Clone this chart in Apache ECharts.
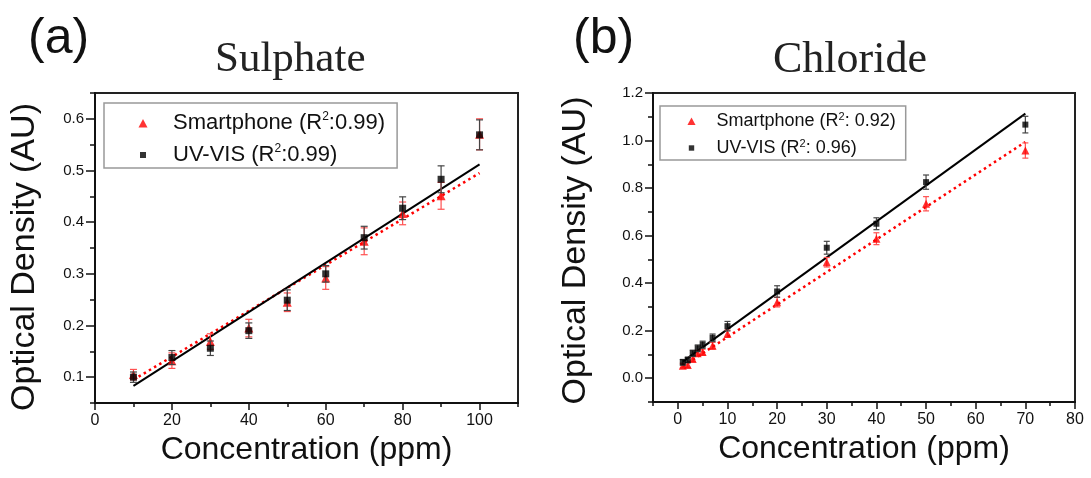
<!DOCTYPE html>
<html>
<head>
<meta charset="utf-8">
<script src="https://cdn.jsdelivr.net/npm/echarts@6/dist/echarts.min.js"></script>
<style>
  html, body { margin: 0; padding: 0; background: #fff; }
  #chart { width: 1091px; height: 478px; }
</style>
</head>
<body>
<div id="chart"></div>
<script>
// ---- Sulphate measurements (ppm vs optical density) ----
const sulphateConc = [10, 20, 30, 40, 50, 60, 70, 80, 90, 100];
const sulphatePhone = [0.105, 0.132, 0.169, 0.195, 0.245, 0.292, 0.363, 0.417, 0.451, 0.570];
const sulphatePhoneErr = [0.010, 0.015, 0.015, 0.017, 0.018, 0.022, 0.026, 0.022, 0.026, 0.030];
const sulphateUv = [0.100, 0.138, 0.156, 0.190, 0.249, 0.300, 0.370, 0.427, 0.483, 0.569];
const sulphateUvErr = [0.010, 0.0135, 0.014, 0.015, 0.020, 0.016, 0.022, 0.022, 0.026, 0.029];
// linear fit end points
const sulphatePhoneFit = [[10, 0.095], [100, 0.495]];
const sulphateUvFit = [[10, 0.083], [100, 0.512]];

// ---- Chloride measurements ----
const chlorideConc = [1, 2, 3, 4, 5, 7, 10, 20, 30, 40, 50, 70];
const chloridePhone = [0.053, 0.056, 0.081, 0.105, 0.110, 0.137, 0.187, 0.320, 0.488, 0.587, 0.734, 0.958];
const chloridePhoneErr = [0.010, 0.010, 0.010, 0.012, 0.012, 0.014, 0.015, 0.020, 0.020, 0.025, 0.030, 0.032];
const chlorideUv = [0.067, 0.077, 0.105, 0.126, 0.141, 0.170, 0.219, 0.365, 0.549, 0.650, 0.825, 1.067];
const chlorideUvErr = [0.012, 0.012, 0.013, 0.014, 0.015, 0.016, 0.020, 0.024, 0.027, 0.025, 0.030, 0.035];
const chloridePhoneFit = [[1, 0.050], [70, 0.994]];
const chlorideUvFit = [[1, 0.070], [70, 1.113]];

// ---- tick positions ----
const sulphateXMajor = [0, 20, 40, 60, 80, 100];
const sulphateXMinor = [10, 30, 50, 70, 90, 110];
const sulphateYMajor = [0.1, 0.2, 0.3, 0.4, 0.5, 0.6];
const sulphateYMinor = [0.05, 0.15, 0.25, 0.35, 0.45, 0.55, 0.65];
const chlorideXMajor = [0, 10, 20, 30, 40, 50, 60, 70, 80];
const chlorideXMinor = [-5, 5, 15, 25, 35, 45, 55, 65, 75];
const chlorideYMajor = [0.0, 0.2, 0.4, 0.6, 0.8, 1.0, 1.2];
const chlorideYMinor = [-0.1, 0.1, 0.3, 0.5, 0.7, 0.9, 1.1];

const SANS = 'Liberation Sans';
const SERIF = 'Liberation Serif';
const INK = '#111';
const RED = '#ff0000';

// legend glyphs: outer moves fix the icon box so the glyph keeps its size
const ICON_TRI = 'path://M0,0M10,10M0.5,9.5L5,1L9.5,9.5Z';
const ICON_SQ = 'path://M0,0M10,10M2,2h6v6h-6z';

function points(conc, vals) { return conc.map((x, i) => [x, vals[i]]); }
function bars(conc, vals, errs) { return conc.map((x, i) => [x, vals[i] - errs[i], vals[i] + errs[i]]); }

function errorRenderer(color, half) {
  return function (params, api) {
    const x = api.value(0);
    const lo = api.coord([x, api.value(1)]);
    const hi = api.coord([x, api.value(2)]);
    const st = { stroke: color, lineWidth: 1.2 };
    return {
      type: 'group',
      children: [
        { type: 'line', shape: { x1: lo[0], y1: lo[1], x2: hi[0], y2: hi[1] }, style: st },
        { type: 'line', shape: { x1: lo[0] - half, y1: lo[1], x2: lo[0] + half, y2: lo[1] }, style: st },
        { type: 'line', shape: { x1: hi[0] - half, y1: hi[1], x2: hi[0] + half, y2: hi[1] }, style: st }
      ]
    };
  };
}

function mainAxis(grid, pos, min, max, major, tickLen, labelSize, margin, fmt, name, nameGap, namePad) {
  return {
    type: 'value', gridIndex: grid, position: pos, min: min, max: max,
    axisLine: { show: true, onZero: false, lineStyle: { color: INK, width: 2 } },
    axisTick: { show: true, customValues: major, length: tickLen, lineStyle: { color: INK, width: 1.5 } },
    axisLabel: { customValues: major, fontFamily: SANS, fontSize: labelSize, color: INK, margin: margin, formatter: fmt },
    splitLine: { show: false },
    name: name, nameLocation: 'middle', nameGap: nameGap,
    nameTextStyle: { fontFamily: SANS, fontSize: name.startsWith('Optical') ? 34 : 32, color: INK, padding: namePad }
  };
}
function minorAxis(grid, pos, min, max, minor, tickLen) {
  return {
    type: 'value', gridIndex: grid, position: pos, offset: 0, min: min, max: max,
    axisLine: { show: false, onZero: false },
    axisTick: { show: true, customValues: minor, length: tickLen, lineStyle: { color: INK, width: 1.5 } },
    axisLabel: { show: false },
    splitLine: { show: false }
  };
}

const intFmt = v => String(Math.round(v));
const oneDp = v => v.toFixed(1);

const option = {
  animation: false,
  backgroundColor: '#fff',
  title: [
    { text: '(a)', left: 28, top: 14, padding: 0, textStyle: { fontFamily: SANS, fontSize: 50, fontWeight: 'normal', color: INK } },
    { text: '(b)', left: 573, top: 14, padding: 0, textStyle: { fontFamily: SANS, fontSize: 50, fontWeight: 'normal', color: INK } },
    { text: 'Sulphate', left: 215, top: 38, padding: 0, textStyle: { fontFamily: SERIF, fontSize: 43, fontWeight: 'normal', color: '#222' } },
    { text: 'Chloride', left: 773, top: 38, padding: 0, textStyle: { fontFamily: SERIF, fontSize: 44, fontWeight: 'normal', color: '#222' } }
  ],
  legend: [
    {
      left: 104, top: 103, orient: 'vertical',
      padding: [8, 12, 1, 34], itemGap: 8, itemWidth: 50, itemHeight: 10,
      backgroundColor: '#fff', borderColor: '#999', borderWidth: 1.5,
      data: [
        { name: 'Smartphone', icon: ICON_TRI },
        { name: 'UV-VIS', icon: ICON_SQ }
      ],
      formatter: name => name === 'Smartphone' ? 'Smartphone (R{sup|2}:0.99)' : 'UV-VIS (R{sup|2}:0.99)',
      textStyle: {
        fontFamily: SANS, fontSize: 22, color: INK, lineHeight: 24,
        rich: { sup: { fontFamily: SANS, fontSize: 12, lineHeight: 16, verticalAlign: 'top', color: INK } }
      }
    },
    {
      left: 660, top: 106, orient: 'vertical',
      padding: [5, 10, 2, 27], itemGap: 7, itemWidth: 40, itemHeight: 9,
      backgroundColor: '#fff', borderColor: '#999', borderWidth: 1.5,
      data: [
        { name: 'Smartphone', icon: ICON_TRI },
        { name: 'UV-VIS', icon: ICON_SQ }
      ],
      formatter: name => name === 'Smartphone' ? 'Smartphone (R{sup|2}: 0.92)' : 'UV-VIS (R{sup|2}: 0.96)',
      textStyle: {
        fontFamily: SANS, fontSize: 18, color: INK, lineHeight: 20,
        rich: { sup: { fontFamily: SANS, fontSize: 11, lineHeight: 14, verticalAlign: 'top', color: INK } }
      }
    }
  ],
  grid: [
    { left: 95, top: 93, width: 423, height: 310, show: true, borderColor: '#222', borderWidth: 2, backgroundColor: 'transparent' },
    { left: 653, top: 93, width: 422, height: 309, show: true, borderColor: '#222', borderWidth: 2, backgroundColor: 'transparent' }
  ],
  xAxis: [
    mainAxis(0, 'bottom', 0, 110, sulphateXMajor, 7, 16, 10, intFmt, 'Concentration (ppm)', 31, 0),
    minorAxis(0, 'bottom', 0, 110, sulphateXMinor, 4),
    mainAxis(1, 'bottom', -5, 80, chlorideXMajor, 7, 16, 10, intFmt, 'Concentration (ppm)', 31, 0),
    minorAxis(1, 'bottom', -5, 80, chlorideXMinor, 4)
  ],
  yAxis: [
    mainAxis(0, 'left', 0.05, 0.65, sulphateYMajor, 9, 15, 11, oneDp, 'Optical Density (AU)', 53, [0, 18, 0, 0]),
    minorAxis(0, 'left', 0.05, 0.65, sulphateYMinor, 5),
    mainAxis(1, 'left', -0.1, 1.2, chlorideYMajor, 8, 15, 10, oneDp, 'Optical Density (AU)', 60, [0, 6, 0, 0]),
    minorAxis(1, 'left', -0.1, 1.2, chlorideYMinor, 5)
  ],
  series: [
    // Sulphate
    { name: 'Smartphone fit a', type: 'line', xAxisIndex: 0, yAxisIndex: 0, data: sulphatePhoneFit, showSymbol: false, silent: true, z: 2,
      lineStyle: { color: RED, width: 2.5, type: [2.5, 3.5] } },
    { name: 'UV-VIS fit a', type: 'line', xAxisIndex: 0, yAxisIndex: 0, data: sulphateUvFit, showSymbol: false, silent: true, z: 3,
      lineStyle: { color: '#000', width: 2 } },
    { name: 'Smartphone err a', type: 'custom', xAxisIndex: 0, yAxisIndex: 0, data: bars(sulphateConc, sulphatePhone, sulphatePhoneErr),
      encode: { x: 0, y: [1, 2] }, renderItem: errorRenderer('#ff5050', 3.5), z: 4, silent: true },
    { name: 'Smartphone', type: 'scatter', xAxisIndex: 0, yAxisIndex: 0, data: points(sulphateConc, sulphatePhone),
      symbol: 'triangle', symbolSize: 9, itemStyle: { color: RED }, z: 5 },
    { name: 'UV-VIS err a', type: 'custom', xAxisIndex: 0, yAxisIndex: 0, data: bars(sulphateConc, sulphateUv, sulphateUvErr),
      encode: { x: 0, y: [1, 2] }, renderItem: errorRenderer('#444', 3.5), z: 6, silent: true },
    { name: 'UV-VIS', type: 'scatter', xAxisIndex: 0, yAxisIndex: 0, data: points(sulphateConc, sulphateUv),
      symbol: 'rect', symbolSize: 7, itemStyle: { color: '#000' }, z: 7 },

    // Chloride
    { name: 'Smartphone fit b', type: 'line', xAxisIndex: 2, yAxisIndex: 2, data: chloridePhoneFit, showSymbol: false, silent: true, z: 2,
      lineStyle: { color: RED, width: 2.5, type: [2.5, 3.5] } },
    { name: 'UV-VIS fit b', type: 'line', xAxisIndex: 2, yAxisIndex: 2, data: chlorideUvFit, showSymbol: false, silent: true, z: 3,
      lineStyle: { color: '#000', width: 2 } },
    { name: 'Smartphone err b', type: 'custom', xAxisIndex: 2, yAxisIndex: 2, data: bars(chlorideConc, chloridePhone, chloridePhoneErr),
      encode: { x: 0, y: [1, 2] }, renderItem: errorRenderer('#ff5050', 3), z: 4, silent: true },
    { name: 'Smartphone', type: 'scatter', xAxisIndex: 2, yAxisIndex: 2, data: points(chlorideConc, chloridePhone),
      symbol: 'triangle', symbolSize: 8, itemStyle: { color: RED }, z: 5 },
    { name: 'UV-VIS err b', type: 'custom', xAxisIndex: 2, yAxisIndex: 2, data: bars(chlorideConc, chlorideUv, chlorideUvErr),
      encode: { x: 0, y: [1, 2] }, renderItem: errorRenderer('#444', 3), z: 6, silent: true },
    { name: 'UV-VIS', type: 'scatter', xAxisIndex: 2, yAxisIndex: 2, data: points(chlorideConc, chlorideUv),
      symbol: 'rect', symbolSize: 6, itemStyle: { color: '#000' }, z: 7 }
  ]
};

const chart = echarts.init(document.getElementById('chart'), null, { renderer: 'canvas' });
chart.setOption(option);
</script>
</body>
</html>
